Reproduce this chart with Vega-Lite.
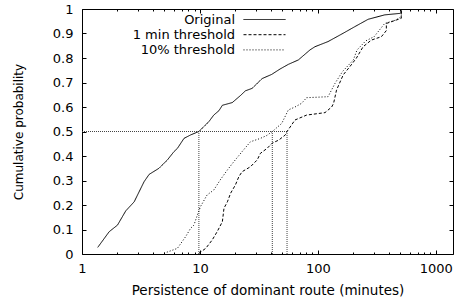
{
  "$schema": "https://vega.github.io/schema/vega-lite/v6.json",
  "width": 371,
  "height": 245,
  "autosize": {"type": "none"},
  "padding": {"left": 82, "top": 9, "right": 5, "bottom": 49},
  "background": "white",
  "config": {
    "font": "DejaVu Sans",
    "view": {"stroke": "black", "strokeWidth": 1},
    "axis": {
      "domain": false,
      "grid": false,
      "labelFont": "DejaVu Sans",
      "labelFontSize": 13,
      "labelColor": "black",
      "titleFont": "DejaVu Sans",
      "titleFontWeight": "normal",
      "titleColor": "black",
      "tickColor": "black",
      "tickWidth": 1,
      "labelOverlap": false,
      "labelFlush": false,
      "labelBound": false
    }
  },
  "datasets": {
    "curves": [
      {"series": "Original", "x": 1.36, "p": 0.027},
      {"series": "Original", "x": 1.70, "p": 0.091},
      {"series": "Original", "x": 2.0, "p": 0.118},
      {"series": "Original", "x": 2.35, "p": 0.176},
      {"series": "Original", "x": 2.77, "p": 0.213},
      {"series": "Original", "x": 3.36, "p": 0.295},
      {"series": "Original", "x": 3.71, "p": 0.325},
      {"series": "Original", "x": 4.5, "p": 0.35},
      {"series": "Original", "x": 5.3, "p": 0.384},
      {"series": "Original", "x": 6.03, "p": 0.418},
      {"series": "Original", "x": 6.44, "p": 0.431},
      {"series": "Original", "x": 7.33, "p": 0.472},
      {"series": "Original", "x": 8.34, "p": 0.486},
      {"series": "Original", "x": 9.8, "p": 0.5},
      {"series": "Original", "x": 11.9, "p": 0.54},
      {"series": "Original", "x": 13.1, "p": 0.567},
      {"series": "Original", "x": 14.5, "p": 0.585},
      {"series": "Original", "x": 15.5, "p": 0.607},
      {"series": "Original", "x": 18.8, "p": 0.618},
      {"series": "Original", "x": 22.1, "p": 0.647},
      {"series": "Original", "x": 24.3, "p": 0.666},
      {"series": "Original", "x": 27.7, "p": 0.676},
      {"series": "Original", "x": 33.7, "p": 0.716},
      {"series": "Original", "x": 40.6, "p": 0.733},
      {"series": "Original", "x": 47.8, "p": 0.755},
      {"series": "Original", "x": 56.2, "p": 0.774},
      {"series": "Original", "x": 68.3, "p": 0.792},
      {"series": "Original", "x": 85.8, "p": 0.833},
      {"series": "Original", "x": 94.5, "p": 0.846},
      {"series": "Original", "x": 122, "p": 0.867},
      {"series": "Original", "x": 164, "p": 0.901},
      {"series": "Original", "x": 206, "p": 0.928},
      {"series": "Original", "x": 267, "p": 0.958},
      {"series": "Original", "x": 369, "p": 0.976},
      {"series": "Original", "x": 494, "p": 0.982},
      {"series": "Original", "x": 510, "p": 0.985},
      {"series": "Original", "x": 510, "p": 1.0},
      {"series": "1 min threshold", "x": 9.8, "p": 0.003},
      {"series": "1 min threshold", "x": 11.2, "p": 0.023},
      {"series": "1 min threshold", "x": 12.7, "p": 0.057},
      {"series": "1 min threshold", "x": 14.0, "p": 0.091},
      {"series": "1 min threshold", "x": 15.5, "p": 0.132},
      {"series": "1 min threshold", "x": 16.0, "p": 0.187},
      {"series": "1 min threshold", "x": 17.1, "p": 0.213},
      {"series": "1 min threshold", "x": 18.2, "p": 0.248},
      {"series": "1 min threshold", "x": 20.0, "p": 0.282},
      {"series": "1 min threshold", "x": 21.4, "p": 0.316},
      {"series": "1 min threshold", "x": 22.8, "p": 0.336},
      {"series": "1 min threshold", "x": 26.8, "p": 0.356},
      {"series": "1 min threshold", "x": 30.6, "p": 0.384},
      {"series": "1 min threshold", "x": 32.6, "p": 0.411},
      {"series": "1 min threshold", "x": 37.1, "p": 0.431},
      {"series": "1 min threshold", "x": 40.9, "p": 0.452},
      {"series": "1 min threshold", "x": 46.6, "p": 0.465},
      {"series": "1 min threshold", "x": 53, "p": 0.486},
      {"series": "1 min threshold", "x": 54.8, "p": 0.5},
      {"series": "1 min threshold", "x": 64, "p": 0.547},
      {"series": "1 min threshold", "x": 80.3, "p": 0.567},
      {"series": "1 min threshold", "x": 115, "p": 0.577},
      {"series": "1 min threshold", "x": 131, "p": 0.6},
      {"series": "1 min threshold", "x": 136, "p": 0.615},
      {"series": "1 min threshold", "x": 144, "p": 0.669},
      {"series": "1 min threshold", "x": 164, "p": 0.731},
      {"series": "1 min threshold", "x": 187, "p": 0.765},
      {"series": "1 min threshold", "x": 212, "p": 0.799},
      {"series": "1 min threshold", "x": 242, "p": 0.846},
      {"series": "1 min threshold", "x": 284, "p": 0.873},
      {"series": "1 min threshold", "x": 346, "p": 0.887},
      {"series": "1 min threshold", "x": 381, "p": 0.912},
      {"series": "1 min threshold", "x": 381, "p": 0.941},
      {"series": "1 min threshold", "x": 420, "p": 0.948},
      {"series": "1 min threshold", "x": 510, "p": 0.962},
      {"series": "1 min threshold", "x": 510, "p": 1.0},
      {"series": "10% threshold", "x": 4.96, "p": 0.003},
      {"series": "10% threshold", "x": 6.44, "p": 0.023},
      {"series": "10% threshold", "x": 7.57, "p": 0.071},
      {"series": "10% threshold", "x": 8.34, "p": 0.105},
      {"series": "10% threshold", "x": 8.9, "p": 0.118},
      {"series": "10% threshold", "x": 9.4, "p": 0.152},
      {"series": "10% threshold", "x": 10.1, "p": 0.193},
      {"series": "10% threshold", "x": 11.5, "p": 0.241},
      {"series": "10% threshold", "x": 13.1, "p": 0.261},
      {"series": "10% threshold", "x": 15.0, "p": 0.305},
      {"series": "10% threshold", "x": 17.1, "p": 0.343},
      {"series": "10% threshold", "x": 19.4, "p": 0.377},
      {"series": "10% threshold", "x": 22.8, "p": 0.418},
      {"series": "10% threshold", "x": 26.8, "p": 0.458},
      {"series": "10% threshold", "x": 32.6, "p": 0.472},
      {"series": "10% threshold", "x": 37, "p": 0.484},
      {"series": "10% threshold", "x": 41.1, "p": 0.5},
      {"series": "10% threshold", "x": 49.4, "p": 0.533},
      {"series": "10% threshold", "x": 56.2, "p": 0.588},
      {"series": "10% threshold", "x": 64, "p": 0.6},
      {"series": "10% threshold", "x": 72.8, "p": 0.615},
      {"series": "10% threshold", "x": 80.3, "p": 0.638},
      {"series": "10% threshold", "x": 122, "p": 0.642},
      {"series": "10% threshold", "x": 140, "p": 0.697},
      {"series": "10% threshold", "x": 162, "p": 0.745},
      {"series": "10% threshold", "x": 200, "p": 0.792},
      {"series": "10% threshold", "x": 215, "p": 0.833},
      {"series": "10% threshold", "x": 255, "p": 0.87},
      {"series": "10% threshold", "x": 300, "p": 0.887},
      {"series": "10% threshold", "x": 369, "p": 0.941},
      {"series": "10% threshold", "x": 460, "p": 0.955},
      {"series": "10% threshold", "x": 510, "p": 0.969},
      {"series": "10% threshold", "x": 510, "p": 1.0}
    ],
    "refs": [
      {"x": 1, "x2": 54.8, "y": 0.5, "y2": 0.5},
      {"x": 9.8, "x2": 9.8, "y": 0, "y2": 0.5},
      {"x": 41.1, "x2": 41.1, "y": 0, "y2": 0.5},
      {"x": 54.8, "x2": 54.8, "y": 0, "y2": 0.5}
    ]
  },
  "layer": [
    {
      "data": {"name": "refs"},
      "mark": {"type": "rule", "strokeDash": [1, 1], "color": "#444", "strokeWidth": 1},
      "encoding": {
        "x": {
          "field": "x", "type": "quantitative",
          "scale": {"type": "log", "domain": [1, 1400], "nice": false},
          "axis": {
            "orient": "bottom",
            "values": [1, 2, 3, 4, 5, 6, 7, 8, 9, 10, 20, 30, 40, 50, 60, 70, 80, 90, 100, 200, 300, 400, 500, 600, 700, 800, 900, 1000],
            "format": "d",
            "labelExpr": "(datum.value == 1 || datum.value == 10 || datum.value == 100 || datum.value == 1000) ? datum.label : ''",
            "tickSize": {"condition": {"test": "datum.value == 1 || datum.value == 10 || datum.value == 100 || datum.value == 1000", "value": -4}, "value": -2},
            "labelPadding": 12,
            "title": "Persistence of dominant route (minutes)",
            "titleFontSize": 13.5,
            "titlePadding": 6
          }
        },
        "x2": {"field": "x2"},
        "y": {
          "field": "y", "type": "quantitative",
          "scale": {"domain": [0, 1], "nice": false, "zero": false},
          "axis": {
            "orient": "left",
            "values": [0, 0.1, 0.2, 0.3, 0.4, 0.5, 0.6, 0.7, 0.8, 0.9, 1],
            "format": "~g",
            "tickSize": -4,
            "labelPadding": 13,
            "title": "Cumulative probability",
            "titleFontSize": 12,
            "titlePadding": 27
          }
        },
        "y2": {"field": "y2"}
      }
    },
    {
      "data": {"name": "curves"},
      "mark": {"type": "line", "strokeWidth": 1, "color": "black"},
      "encoding": {
        "x": {
          "field": "x", "type": "quantitative",
          "scale": {"type": "log", "domain": [1, 1400], "nice": false},
          "axis": {
            "orient": "top",
            "values": [1, 2, 3, 4, 5, 6, 7, 8, 9, 10, 20, 30, 40, 50, 60, 70, 80, 90, 100, 200, 300, 400, 500, 600, 700, 800, 900, 1000],
            "labels": false,
            "tickSize": {"condition": {"test": "datum.value == 1 || datum.value == 10 || datum.value == 100 || datum.value == 1000", "value": -4}, "value": -2},
            "title": null
          }
        },
        "y": {
          "field": "p", "type": "quantitative",
          "scale": {"domain": [0, 1], "nice": false, "zero": false},
          "axis": {
            "orient": "right",
            "values": [0, 0.1, 0.2, 0.3, 0.4, 0.5, 0.6, 0.7, 0.8, 0.9, 1],
            "labels": false,
            "tickSize": -4,
            "title": null
          }
        },
        "order": {"field": "p", "type": "quantitative"},
        "strokeDash": {
          "field": "series", "type": "nominal",
          "scale": {"domain": ["Original", "1 min threshold", "10% threshold"], "range": [[1, 0], [3, 2], [1, 2]]},
          "legend": {
            "orient": "none",
            "legendX": 155,
            "legendY": 4,
            "title": null,
            "padding": 0,
            "symbolType": "M0,0H42",
            "symbolSize": 4,
            "symbolStrokeWidth": 1,
            "symbolStrokeColor": "black",
            "labelAlign": "right",
            "labelOffset": -15,
            "labelFont": "DejaVu Sans",
            "labelFontSize": 13,
            "labelColor": "black",
            "labelLimit": 300,
            "rowPadding": 1.2
          }
        }
      }
    }
  ],
  "resolve": {"axis": {"x": "independent", "y": "independent"}}
}
